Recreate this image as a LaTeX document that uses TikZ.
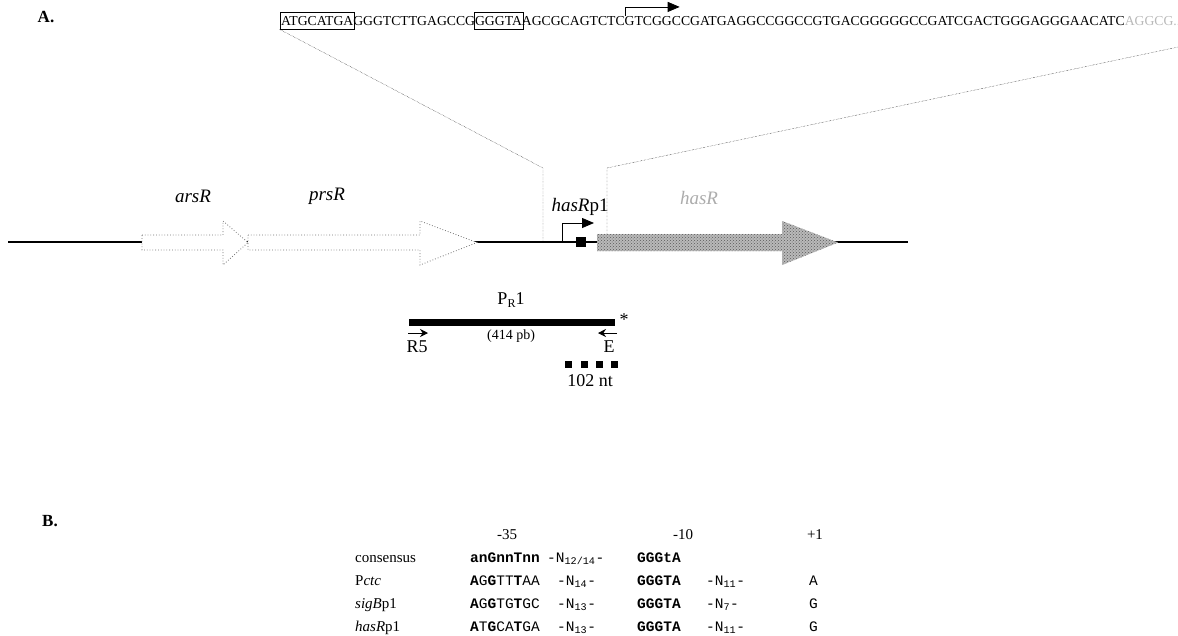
\documentclass[tikz,border=0pt]{standalone}
\usepackage{fontspec}
\setmainfont{Liberation Serif}
\setmonofont{Liberation Mono}
\usetikzlibrary{arrows.meta,positioning,fit,patterns,calc}

\begin{document}
\begin{tikzpicture}[x=1pt, y=-1pt,
    seq/.style={inner sep=0pt, outer sep=0pt, anchor=base west, font=\fontsize{13.7}{15}\selectfont},
    seqbox/.style={draw, thin, inner xsep=1.2pt, inner ysep=4pt},
    dna/.style={line width=1.6pt},
    gene/.style={draw=black!55, dotted, line width=0.8pt, fill=white},
    hasgene/.style={draw=gray!60, dotted, fill=gray!55, postaction={pattern=crosshatch dots, pattern color=black!65}},
    zoomline/.style={densely dotted, thin},
    promoter/.style={thick, -{Triangle[length=12pt,width=10pt]}},
    primer/.style={thick, -{Stealth[length=8pt,width=8pt]}},
    lbl/.style={inner sep=0pt, font=\fontsize{18}{20}\selectfont},
    genename/.style={inner sep=0pt, font=\fontsize{19}{21}\selectfont\itshape},
    panel/.style={inner sep=0pt, font=\fontsize{17}{19}\selectfont\bfseries},
    rowlbl/.style={anchor=base west, inner sep=0pt, font=\fontsize{15}{17}\selectfont},
    mono/.style={anchor=base west, inner sep=0pt, font=\fontsize{14.5}{17}\selectfont\ttfamily},
    hdr/.style={anchor=base, inner sep=0pt, font=\fontsize{15}{17}\selectfont}
]
\useasboundingbox (0,0) rectangle (1178,635);

% panel A: sequence of the promoter region
\node[panel] (pA) at (46,17) {A.};
\node[seq] (s1) at (281,25) {ATGCATGA};
\node[seq] (s2) at (s1.base east) {GGGTCTTGAGCCG};
\node[seq] (s3) at (s2.base east) {GGGTA};
\node[seq] (s4) at (s3.base east) {AGCGCAGTCTC};
\node[seq] (s5) at (s4.base east) {GTCGGCCGATGAGGCCGGCCGTGACGGGGGCCGATCGACTGGGAGGGAACATC};
\node[seq, text=gray!55] (s6) at (s5.base east) {AGGCG..};
\node[seqbox, fit=(s1)] (b1) {};
\node[seqbox, fit=(s3)] (b3) {};
\draw[promoter] ([xshift=1pt]s5.north west) -- ++(0,-9) -- ++(54,0);

% locus
\coordinate (zl) at (543,168);
\coordinate (zr) at (607,168);
\coordinate (zend) at (1178,47);
\draw[zoomline] (b1.south west) -- (zl) -- (zl |- 0,242);
\draw[zoomline] (zr |- 0,242) -- (zr) -- (zend);

\draw[dna] (8,242) -- (908,242);
\draw[gene] (142,235) -- (223,235) -- (223,221) -- (248,242.5) -- (223,265) -- (223,250) -- (142,250) -- cycle;
\draw[gene] (248,235) -- (420,235) -- (420,221) -- (477,242.5) -- (420,265) -- (420,250) -- (248,250) -- cycle;
\draw[hasgene] (597,234) -- (782,234) -- (782,221) -- (838,242.5) -- (782,265) -- (782,251) -- (597,251) -- cycle;
\node[genename] (arsR) at (193,196) {arsR};
\node[genename] (prsR) at (327,196) {prsR};
\node[genename, text=gray!65] (hasR) at (699,198) {hasR};

\draw[promoter] (562,242) -- (562,223) -- (594,223);
\node[lbl, font=\fontsize{19}{21}\selectfont] (p1) at (580,207) {\textit{hasR}p1};
\node[fill, minimum size=10pt, inner sep=0pt] (sq) at (581,242) {};

% probe PR1
\coordinate (pr1a) at (409,322);
\coordinate (pr1b) at (615,322);
\draw[line width=7pt] (pr1a) -- (pr1b);
\node[lbl] (pr1) at (511,300) {P\raisebox{-0.45ex}{\fontsize{12}{12}\selectfont R}1};
\node[lbl, font=\fontsize{14}{15}\selectfont] (len) at (511,336) {(414 pb)};
\node[lbl] (star) at (624,320) {*};
\draw[primer] (408,333) -- (428,333);
\draw[primer] (617,333) -- (598,333);
\node[lbl] (r5) at (417,347) {R5};
\node[lbl] (e) at (609,347) {E};

\foreach \x in {568,584,599,614}
    \fill (\x-3.5,360.5) rectangle (\x+3.5,368);
\node[lbl] (nt) at (590,381) {102 nt};

% panel B: promoter alignment
\node[panel] (pB) at (50,521) {B.};
\node[hdr] (h35) at (507,539) {-35};
\node[hdr] (h10) at (683,539) {-10};
\node[hdr] (h1) at (815,539) {+1};

\node[rowlbl] (l1) at (355,562) {consensus};
\node[mono] (q1) at (470,562) {\textbf{anGnnTnn}};
\node[mono] (n1) at (547,562) {-N\textsubscript{12/14}-};
\node[mono] (g1) at (637,562) {\textbf{GGGtA}};

\node[rowlbl] (l2) at (355,585) {P\textit{ctc}};
\node[mono] (q2) at (470,585) {\textbf{A}G\textbf{G}TT\textbf{T}AA};
\node[mono] (n2) at (557,585) {-N\textsubscript{14}-};
\node[mono] (g2) at (637,585) {\textbf{GGGTA}};
\node[mono] (m2) at (706,585) {-N\textsubscript{11}-};
\node[mono] (t2) at (809,585) {A};

\node[rowlbl] (l3) at (355,608) {\textit{sigB}p1};
\node[mono] (q3) at (470,608) {\textbf{A}G\textbf{G}TG\textbf{T}GC};
\node[mono] (n3) at (557,608) {-N\textsubscript{13}-};
\node[mono] (g3) at (637,608) {\textbf{GGGTA}};
\node[mono] (m3) at (706,608) {-N\textsubscript{7}-};
\node[mono] (t3) at (809,608) {G};

\node[rowlbl] (l4) at (355,631) {\textit{hasR}p1};
\node[mono] (q4) at (470,631) {\textbf{A}T\textbf{G}CA\textbf{T}GA};
\node[mono] (n4) at (557,631) {-N\textsubscript{13}-};
\node[mono] (g4) at (637,631) {\textbf{GGGTA}};
\node[mono] (m4) at (706,631) {-N\textsubscript{11}-};
\node[mono] (t4) at (809,631) {G};
\end{tikzpicture}
\end{document}
